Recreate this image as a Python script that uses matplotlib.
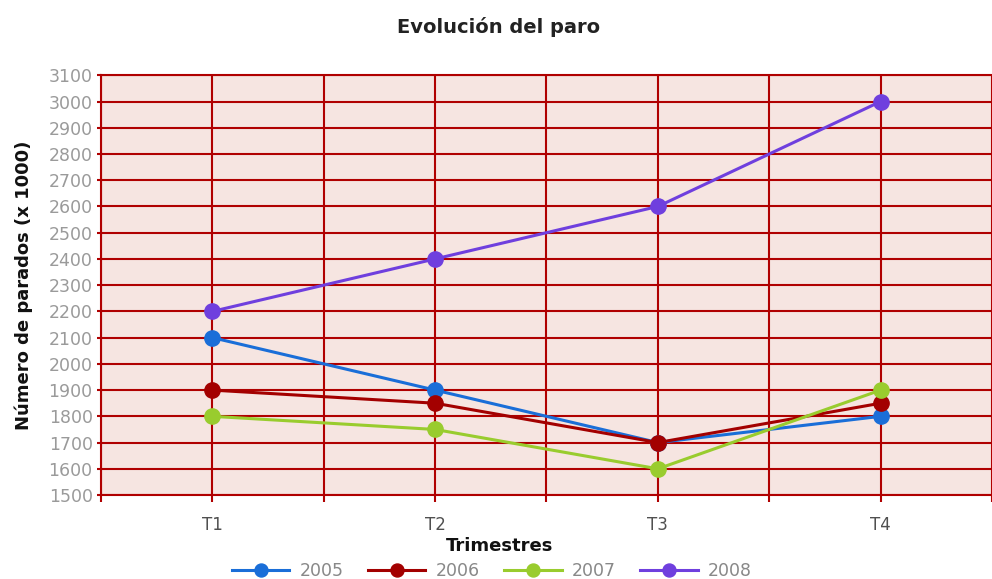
import numpy as np
import matplotlib.pyplot as plt

trimestres = ["T1", "T2", "T3", "T4"]
anios = ["2005", "2006", "2007", "2008"]
parados_2005 = [2100, 1900, 1700, 1800]
parados_2006 = [1900, 1850, 1700, 1850]
parados_2007 = [1800, 1750, 1600, 1900]
parados_2008 = [2200, 2400, 2600, 3000]
colores = ["#1a6ed8", "#a30000", "#99cc2e", "#6f3fde"]

grid_col = "#b00000"

fig = plt.figure(figsize=(9.92, 5.79), dpi=100)
ax = fig.add_axes([0.1018, 0.145, 0.8982, 0.725])
ax.set_facecolor("#f6e5e1")

x = np.arange(len(trimestres))
for serie, label, col in zip([parados_2005, parados_2006, parados_2007, parados_2008], anios, colores):
    ax.plot(x, serie, color=col, lw=2.2, marker="o", ms=11, label=label, zorder=3)

ax.set_xlim(-0.5, 3.47)
ax.set_ylim(1500, 3100)
ax.set_yticks(np.arange(1500, 3101, 100))
ax.set_xticks(x)
ax.set_xticklabels(trimestres)
ax.set_xticks(np.arange(-0.5, 3.6, 1.0), minor=True)

ax.grid(True, which="both", axis="x", color=grid_col, lw=1.5, zorder=1)
ax.grid(True, which="major", axis="y", color=grid_col, lw=1.5, zorder=1)
ax.set_axisbelow(True)

for s in ["left", "bottom", "top"]:
    ax.spines[s].set_color(grid_col)
    ax.spines[s].set_linewidth(1.5)
ax.spines["right"].set_visible(False)

ax.tick_params(axis="y", colors=grid_col, labelcolor="#9a9a9a", labelsize=12.5, length=3, width=1.5, pad=3)
ax.tick_params(axis="x", which="both", colors=grid_col, length=5, width=1.5)
ax.tick_params(axis="x", which="major", labelcolor="#505050", labelsize=12, pad=10)

fig.text(0.503, 0.953, "Evolución del paro", ha="center", va="center", fontsize=14, fontweight="bold", color="#222222")
ax.set_ylabel("Número de parados (x 1000)", fontsize=13, fontweight="bold", color="#111111", labelpad=11)
fig.text(0.504, 0.057, "Trimestres", ha="center", va="center", fontsize=13, fontweight="bold", color="#111111")

leg = fig.legend(loc="center", bbox_to_anchor=(0.496, 0.014), ncol=4, frameon=False, fontsize=12.5,
                 handlelength=3.3, columnspacing=1.4, handletextpad=0.6, labelcolor="#888888",
                 markerscale=0.85)

fig.savefig("out.png", dpi=100)
